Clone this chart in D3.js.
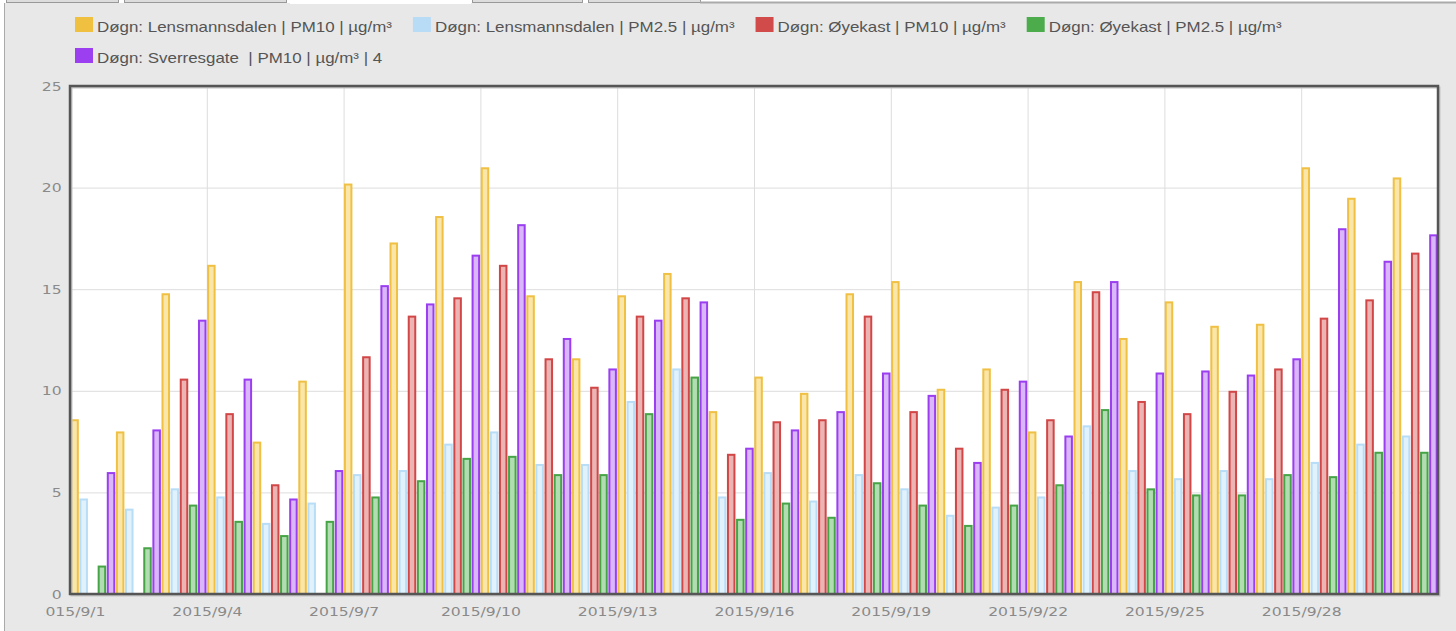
<!DOCTYPE html>
<html lang="en">
<head>
<meta charset="UTF-8">
<title>Døgn PM10 / PM2.5</title>
<script src="https://d3js.org/d3.v7.min.js"></script>
<style>
    body { margin: 0; background: #fff; }
    svg { display: block; }
    .tick line { stroke: #ddd; }
    .axis text { font-family: "DejaVu Sans", sans-serif; font-size: 13px; fill: #8a8a8a; }
    .legend text { font-family: "Liberation Sans", Arial, sans-serif; font-size: 14px; fill: #555; }
</style>
</head>
<body>
<svg id="chart"></svg>
<script>
// days on the x axis
var days = ["2015/9/1","2015/9/2","2015/9/3","2015/9/4","2015/9/5","2015/9/6","2015/9/7","2015/9/8","2015/9/9","2015/9/10",
            "2015/9/11","2015/9/12","2015/9/13","2015/9/14","2015/9/15","2015/9/16","2015/9/17","2015/9/18","2015/9/19","2015/9/20",
            "2015/9/21","2015/9/22","2015/9/23","2015/9/24","2015/9/25","2015/9/26","2015/9/27","2015/9/28","2015/9/29","2015/9/30"];
var tickDays = ["2015/9/1","2015/9/4","2015/9/7","2015/9/10","2015/9/13","2015/9/16","2015/9/19","2015/9/22","2015/9/25","2015/9/28"];
var domainEnd = "2015/10/1";
var yTicks = [0, 5, 10, 15, 20, 25];

var seriesNames = [
    "Døgn: Lensmannsdalen | PM10 | µg/m³",
    "Døgn: Lensmannsdalen | PM2.5 | µg/m³",
    "Døgn: Øyekast | PM10 | µg/m³",
    "Døgn: Øyekast | PM2.5 | µg/m³",
    "Døgn: Sverresgate  | PM10 | µg/m³ | 4"
];

var lensPM10 = [8.6, 8.0, 14.8, 16.2, 7.5, 10.5, 20.2, 17.3, 18.6, 21.0, 14.7, 11.6, 14.7, 15.8, 9.0,
                10.7, 9.9, 14.8, 15.4, 10.1, 11.1, 8.0, 15.4, 12.6, 14.4, 13.2, 13.3, 21.0, 19.5, 20.5];
var lensPM25 = [4.7, 4.2, 5.2, 4.8, 3.5, 4.5, 5.9, 6.1, 7.4, 8.0, 6.4, 6.4, 9.5, 11.1, 4.8,
                6.0, 4.6, 5.9, 5.2, 3.9, 4.3, 4.8, 8.3, 6.1, 5.7, 6.1, 5.7, 6.5, 7.4, 7.8];
var oyePM10  = [null, null, 10.6, 8.9, 5.4, null, 11.7, 13.7, 14.6, 16.2, 11.6, 10.2, 13.7, 14.6, 6.9,
                8.5, 8.6, 13.7, 9.0, 7.2, 10.1, 8.6, 14.9, 9.5, 8.9, 10.0, 11.1, 13.6, 14.5, 16.8];
var oyePM25  = [1.4, 2.3, 4.4, 3.6, 2.9, 3.6, 4.8, 5.6, 6.7, 6.8, 5.9, 5.9, 8.9, 10.7, 3.7,
                4.5, 3.8, 5.5, 4.4, 3.4, 4.4, 5.4, 9.1, 5.2, 4.9, 4.9, 5.9, 5.8, 7.0, 7.0];
var sverPM10 = [6.0, 8.1, 13.5, 10.6, 4.7, 6.1, 15.2, 14.3, 16.7, 18.2, 12.6, 11.1, 13.5, 14.4, 7.2,
                8.1, 9.0, 10.9, 9.8, 6.5, 10.5, 7.8, 15.4, 10.9, 11.0, 10.8, 11.6, 18.0, 16.4, 17.7];

var seriesValues = [lensPM10, lensPM25, oyePM10, oyePM25, sverPM10];
var strokeColors = ["#efc043", "#b8ddf7", "#d14646", "#46a446", "#9a3ef0"];
var fillColors   = ["#fae6a8", "#e2f2fd", "#edb4b4", "#b2dcb2", "#dab6fb"];
var swatchColors = ["#f0c040", "#b8dcf6", "#d24b4b", "#4cac4c", "#9b3ff0"];

var W = 1456, H = 631;
var plot = {left: 70, right: 1438, top: 86, bottom: 594};
var stretch = 1.21;   // the original text looks horizontally stretched

var parse = d3.timeParse("%Y/%m/%d");

var svg = d3.select("#chart").attr("width", W).attr("height", H);

// panel background + little tab strip at the top
svg.append("rect").attr("x", 4).attr("y", 3).attr("width", W - 4).attr("height", H - 3)
    .attr("fill", "#e8e8e8");
svg.append("line").attr("x1", 4.5).attr("x2", 4.5).attr("y1", 3).attr("y2", H).attr("stroke", "#aaa");
[[6, 112], [124, 162], [472, 110], [588, 112]].forEach(function(t) {
    svg.append("rect").attr("x", t[0] + 0.5).attr("y", -2).attr("width", t[1]).attr("height", 4.5)
        .attr("fill", "#ddd").attr("stroke", "#999");
});
svg.append("rect").attr("x", 290).attr("y", 0).attr("width", 181).attr("height", 4).attr("fill", "#fff");
svg.append("line").attr("x1", 700).attr("x2", W).attr("y1", 2.5).attr("y2", 2.5).attr("stroke", "#aaa").attr("stroke-width", 2);

var x = d3.scaleTime()
    .domain([parse(days[0]), parse(domainEnd)])
    .range([plot.left, plot.right]);

var y = d3.scaleLinear()
    .domain([0, 25])
    .range([plot.bottom, plot.top]);

var inner = d3.scaleBand()
    .domain(d3.range(seriesValues.length))
    .range([0, (plot.right - plot.left) / days.length]);

// plot area
svg.append("rect")
    .attr("x", plot.left).attr("y", plot.top)
    .attr("width", plot.right - plot.left).attr("height", plot.bottom - plot.top)
    .attr("fill", "#fff");

// grid
svg.append("g")
    .attr("transform", "translate(0," + plot.bottom + ")")
    .call(d3.axisBottom(x).tickValues(tickDays.map(parse)).tickSize(-(plot.bottom - plot.top)).tickFormat(""))
    .call(g => g.select(".domain").remove());
svg.append("g")
    .attr("transform", "translate(" + plot.left + ",0)")
    .call(d3.axisLeft(y).tickValues(yTicks).tickSize(-(plot.right - plot.left)).tickFormat(""))
    .call(g => g.select(".domain").remove());

// bars
seriesValues.forEach(function(vals, s) {
    svg.append("g").selectAll("rect")
        .data(vals.map(function(v, i) { return {day: parse(days[i]), v: v}; }).filter(function(d) { return d.v != null; }))
        .enter().append("rect")
        .attr("x", function(d) { return x(d.day) + inner(s) + 1.3; })
        .attr("y", function(d) { return y(d.v) + 1; })
        .attr("width", inner.bandwidth() - 2.6)
        .attr("height", function(d) { return y(0) - y(d.v) - 1; })
        .attr("fill", fillColors[s])
        .attr("stroke", strokeColors[s])
        .attr("stroke-width", 2);
});

// frame with soft shadow
svg.append("rect")
    .attr("x", plot.left + 1.5).attr("y", plot.top + 1.5)
    .attr("width", plot.right - plot.left).attr("height", plot.bottom - plot.top)
    .attr("fill", "none").attr("stroke", "#c4c4c4").attr("stroke-width", 2);
svg.append("rect")
    .attr("x", plot.left).attr("y", plot.top)
    .attr("width", plot.right - plot.left).attr("height", plot.bottom - plot.top)
    .attr("fill", "none").attr("stroke", "#555").attr("stroke-width", 2.5);

// axes labels
svg.append("clipPath").attr("id", "xclip")
    .append("rect").attr("x", 44).attr("y", plot.bottom).attr("width", W).attr("height", 40);

svg.append("g")
    .attr("class", "axis")
    .attr("clip-path", "url(#xclip)")
    .append("g")
    .attr("transform", "translate(0," + plot.bottom + ")")
    .call(d3.axisBottom(x).tickValues(tickDays.map(parse)).tickSize(0).tickPadding(13)
        .tickFormat(d3.timeFormat("%Y/%-m/%-d")))
    .call(g => g.select(".domain").remove())
    .call(g => g.selectAll("text").attr("transform", "scale(1.2,1)"));

svg.append("g")
    .attr("class", "axis")
    .attr("transform", "translate(" + plot.left + ",0)")
    .call(d3.axisLeft(y).tickValues(yTicks).tickSize(0).tickPadding(7))
    .call(g => g.select(".domain").remove())
    .call(g => g.selectAll("text").attr("transform", "scale(1.2,1)"));

// legend
var legend = svg.append("g").attr("class", "legend");
var rows = [[0, 1, 2, 3], [4]];
rows.forEach(function(row, r) {
    var cx = 75;
    var top = 17 + r * 31;
    row.forEach(function(s) {
        legend.append("rect")
            .attr("x", cx).attr("y", top).attr("width", 18).attr("height", 15)
            .attr("fill", swatchColors[s]);
        var t = legend.append("text")
            .attr("transform", "translate(" + (cx + 22) + "," + (top + 14.5) + ") scale(" + stretch + ",1)")
            .text(seriesNames[s]);
        t.style("white-space", "pre");
        var w = t.node().getComputedTextLength() * stretch;
        cx = cx + 22 + w + 21;
    });
});
</script>
</body>
</html>
